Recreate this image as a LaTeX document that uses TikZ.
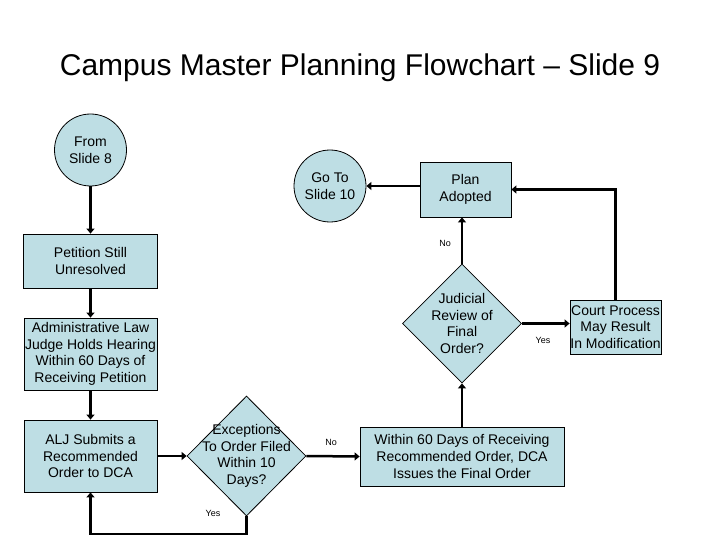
\documentclass[tikz,border=0pt]{standalone}
\usepackage{fontspec}
\setmainfont{Liberation Sans}
\usetikzlibrary{shapes.geometric,arrows.meta}
\definecolor{boxfill}{RGB}{190,222,228}
\begin{document}
\begin{tikzpicture}[x=1pt,y=-1pt,
  bodyfont/.style={font=\fontsize{14}{16.6}\selectfont},
  box/.style={draw=black,line width=0.8pt,fill=boxfill,inner sep=0pt,align=center,bodyfont},
  term/.style={circle,draw=black,line width=0.8pt,fill=boxfill,inner sep=0pt,minimum size=72pt,align=center,bodyfont},
  dia/.style={diamond,draw=black,line width=0.8pt,fill=boxfill,inner sep=0pt,minimum width=119pt,minimum height=119pt},
  txt/.style={align=center,inner sep=0pt,bodyfont},
  lbl/.style={inner sep=0pt,font=\fontsize{9}{10}\selectfont},
  flow/.style={line width=2.5pt,-{Triangle[length=5pt,width=8pt]}}
]
\useasboundingbox[fill=white] (0,0) rectangle (720,540);

\node[inner sep=0pt,font=\fontsize{30}{32}\selectfont] (title) at (360,68) {Campus Master Planning Flowchart -- Slide 9};

\node[term] (from) at (90.5,150) {From\\Slide 8};
\node[term] (goto) at (330,186) {Go To\\Slide 10};
\node[box,minimum width=134pt,minimum height=54pt] (pet) at (90.5,261) {Petition Still\\Unresolved};
\node[box,minimum width=133pt,minimum height=72pt] (adm) at (90.5,354) {Administrative Law\\Judge Holds Hearing\\Within 60 Days of\\Receiving Petition};
\node[box,minimum width=133pt,minimum height=72pt] (alj) at (90.5,456) {ALJ Submits a\\Recommended\\Order to DCA};
\node[box,minimum width=91pt,minimum height=55pt] (plan) at (465.5,189.5) {Plan\\Adopted};
\node[box,minimum width=91pt,minimum height=54pt] (court) at (615.5,327) {Court Process\\May Result\\In Modification};
\node[box,minimum width=204pt,minimum height=59pt] (within) at (462,456.5) {Within 60 Days of Receiving\\Recommended Order, DCA\\Issues the Final Order};

\node[dia] (jud) at (462,323.5) {};
\node[txt] (judt) at (462,323.5) {Judicial\\Review of\\Final\\Order?};
\node[dia,minimum height=120pt] (exc) at (246.5,456) {};
\node[txt] (exct) at (246.5,456) {Exceptions\\To Order Filed\\Within 10\\Days?};

\coordinate (ret) at (90.5,534);

\draw[flow] (from.south) -- (pet.north);
\draw[flow] (pet.south) -- (adm.north);
\draw[flow] (adm.south) -- (alj.north);
\draw[flow] (alj.east) -- (exc.west);
\draw[flow] (exc.east) -- (within.west);
\draw[flow] (exc.south) |- (ret) -- (alj.south);
\draw[flow] (jud.south |- within.north) -- (jud.south);
\draw[flow] (jud.north) -- (jud.north |- plan.south);
\draw[flow] (jud.east) -- (jud.east -| court.west);
\draw[flow] (court.north) |- (plan.east);
\draw[flow] (goto.east -| plan.west) -- (goto.east);

\node[lbl] (lno1) at (445,243) {No};
\node[lbl] (lyes1) at (543,340) {Yes};
\node[lbl] (lno2) at (331,442) {No};
\node[lbl] (lyes2) at (213,513) {Yes};
\end{tikzpicture}
\end{document}
